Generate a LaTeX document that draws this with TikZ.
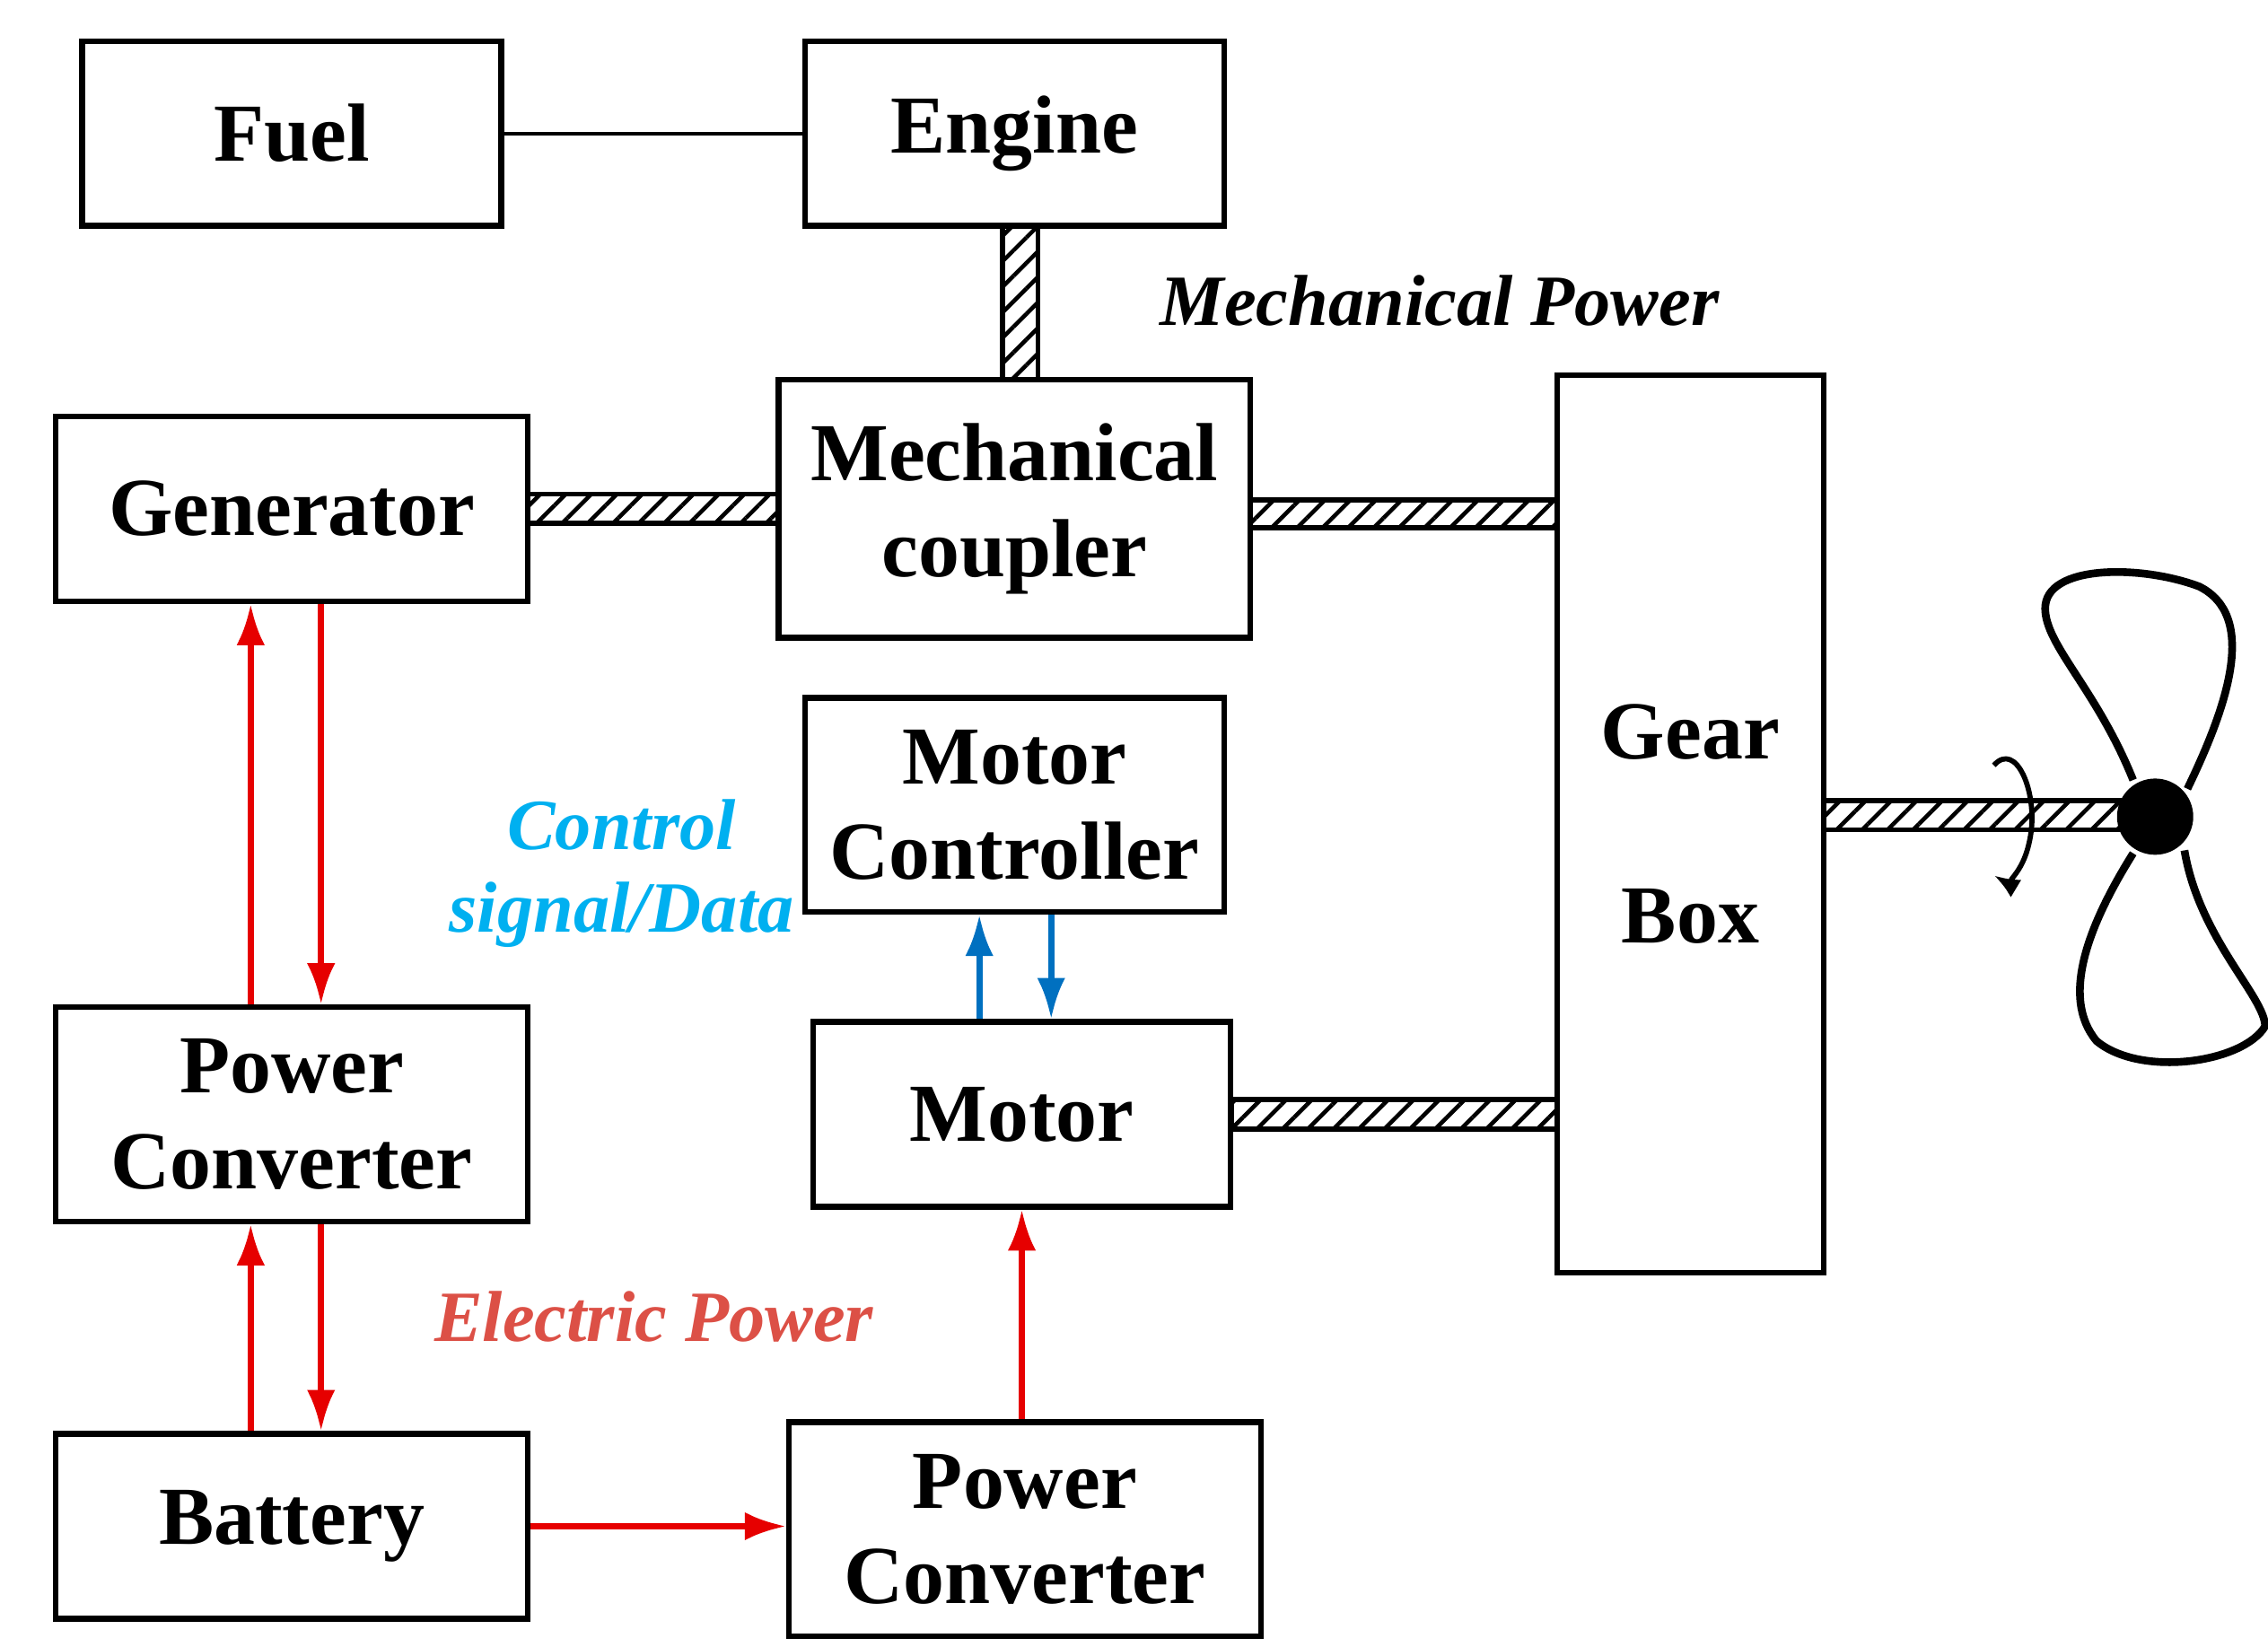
\documentclass[tikz,border=0pt]{standalone}
\usepackage{fontspec}
\setmainfont{Liberation Serif}
\usetikzlibrary{patterns.meta,arrows.meta}
\definecolor{ared}{RGB}{230,0,0}
\definecolor{lred}{RGB}{220,80,70}
\definecolor{ablue}{RGB}{0,112,192}
\definecolor{lblue}{RGB}{0,176,240}
\begin{document}
\begin{tikzpicture}[x=0.02cm,y=-0.02cm,
 box/.style={draw,line width=2.2pt,inner sep=0pt,font=\fontsize{32}{37}\selectfont\bfseries,align=center},
 shaft/.style={draw,line width=2pt,pattern={Lines[angle=45,distance=7pt,line width=1.6pt]}},
 ra/.style={ared,line width=2.4pt,-{Latex[length=16pt,width=11pt]}},
 ba/.style={ablue,line width=2.4pt,-{Latex[length=16pt,width=11pt]}},
 lab/.style={font=\fontsize{28}{32}\selectfont\bfseries\itshape,align=center}]
\useasboundingbox (0,0) rectangle (1547,1123);
% shafts (behind boxes)
\path[shaft] (684,154) rectangle (708,259);
\path[shaft] (360,337) rectangle (531,357);
\path[shaft] (853,341) rectangle (1062,360);
\path[shaft] (840,750) rectangle (1062,770);
\path[shaft] (1244,546) rectangle (1470,566);
% boxes
\node[box,minimum width=5.72cm,minimum height=2.52cm] (fuel) at (199,91) {Fuel};
\node[box,minimum width=5.72cm,minimum height=2.52cm] (eng) at (692,91) {Engine};
\node[box,minimum width=6.44cm,minimum height=2.52cm] (gen) at (199,347) {Generator};
\node[box,minimum width=6.44cm,minimum height=3.52cm] (mc) at (692,347) {Mechanical\\coupler};
\node[box,minimum width=3.64cm,minimum height=12.24cm] (gb) at (1153,562) {Gear\\[1.2cm]Box};
\node[box,minimum width=5.72cm,minimum height=2.92cm] (ctl) at (692,549) {Motor\\Controller};
\node[box,minimum width=5.7cm,minimum height=2.52cm] (mot) at (697,760) {Motor};
\node[box,minimum width=6.44cm,minimum height=2.92cm] (pc1) at (199,760) {Power\\Converter};
\node[box,minimum width=6.44cm,minimum height=2.52cm] (bat) at (199,1041) {Battery};
\node[box,minimum width=6.44cm,minimum height=2.92cm] (pc2) at (699,1043) {Power\\Converter};
\draw[line width=1.5pt] (fuel) -- (eng);
% coordinates
\coordinate (xa) at (171,0); \coordinate (xb) at (219,0);
\coordinate (xc) at (668,0); \coordinate (xd) at (717,0);
\draw[ra] (pc1.north -| xa) -- (gen.south -| xa);
\draw[ra] (gen.south -| xb) -- (pc1.north -| xb);
\draw[ra] (bat.north -| xa) -- (pc1.south -| xa);
\draw[ra] (pc1.south -| xb) -- (bat.north -| xb);
\draw[ra] (bat.east) -- (bat.east -| pc2.west);
\draw[ra] (pc2.north -| mot.south) -- (mot.south);
\draw[ba] (mot.north -| xc) -- (ctl.south -| xc);
\draw[ba] (ctl.south -| xd) -- (mot.north -| xd);
% labels
\node[lab] (lmp) at (982,205) {Mechanical Power};
\node[lab,lblue] (lcs) at (424,596) {Control\\signal/Data};
\node[lab,lred] (lep) at (446,898) {Electric Power};
% propeller
\draw[line width=3pt] (1455,532) .. controls (1430,470) and (1395,440) .. (1395,415)
 .. controls (1395,385) and (1460,385) .. (1500,400)
 .. controls (1540,420) and (1520,480) .. (1492,538);
\draw[line width=3pt] (1455,582) .. controls (1425,630) and (1405,680) .. (1430,710)
 .. controls (1460,735) and (1530,725) .. (1545,700)
 .. controls (1545,680) and (1500,640) .. (1490,580);
\fill (1470,557) circle (26);
\draw[line width=2pt,-{Latex[length=10pt,width=8pt]}] (1360,522) .. controls (1375,505) and (1390,540) .. (1385,570)
 .. controls (1380,600) and (1365,600) .. (1360,597);
\end{tikzpicture}
\end{document}
